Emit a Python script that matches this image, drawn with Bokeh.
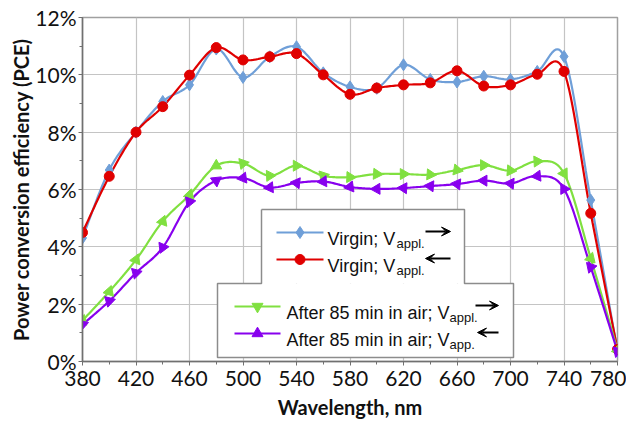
import math
from bokeh.plotting import figure
from bokeh.models import (SingleIntervalTicker, FixedTicker, PrintfTickFormatter, Label,
                          Arrow, VeeHead, Range1d, Title)
from bokeh.embed import file_html
from bokeh.resources import INLINE

# ---------------- data ----------------
wavelength = [380, 400, 420, 440, 460, 480, 500, 520, 540, 560, 580,
              600, 620, 640, 660, 680, 700, 720, 740, 760, 780]
virgin_fwd = [4.31, 6.68, 8.00, 9.07, 9.65, 10.90, 9.91, 10.63, 10.98, 10.07, 9.58,
              9.53, 10.35, 9.84, 9.75, 9.95, 9.84, 10.12, 10.64, 5.63, 0.35]
virgin_rev = [4.50, 6.46, 8.00, 8.89, 9.99, 10.95, 10.52, 10.63, 10.74, 10.00, 9.32,
              9.54, 9.65, 9.72, 10.14, 9.61, 9.65, 10.02, 10.12, 5.17, 0.42]
air_fwd = [1.43, 2.44, 3.55, 4.89, 5.81, 6.83, 6.91, 6.48, 6.83, 6.48, 6.43,
           6.54, 6.54, 6.52, 6.68, 6.85, 6.66, 6.98, 6.56, 3.60, 0.40]
air_rev = [1.29, 2.11, 3.09, 3.98, 5.57, 6.31, 6.40, 6.07, 6.23, 6.28, 6.09,
           6.02, 6.05, 6.12, 6.19, 6.31, 6.21, 6.47, 6.02, 3.29, 0.35]

x_major_ticks = [380, 420, 460, 500, 540, 580, 620, 660, 700, 740, 780]
x_minor_ticks = [400, 440, 480, 520, 560, 600, 640, 680, 720, 760]
y_ticks_interval = 2

BLUE = "#6f9fd8"
RED = "#e00000"
GREEN = "#80e040"
PURPLE = "#8800ee"

# ---------------- layout ----------------
W, H = 626, 425
ML, MR, MT = 82, 9, 17
FRAME_B = 361
MB = H - FRAME_B
FRAME_W = W - ML - MR
FRAME_H = FRAME_B - MT
X0, X1, Y0, Y1 = 380, 780, 0, 12
SX = FRAME_W / (X1 - X0)   # px per nm
SY = FRAME_H / (Y1 - Y0)   # px per %


def px2x(px):
    return X0 + (px - ML) / SX


def px2y(py):
    return (FRAME_B - py) / SY


def catmull(xs, ys, n=16):
    ox, oy = [], []
    m = len(xs)
    for i in range(m - 1):
        p0 = max(i - 1, 0)
        p3 = min(i + 2, m - 1)
        mx0 = (xs[i + 1] - xs[p0]) / 2
        my0 = (ys[i + 1] - ys[p0]) / 2
        mx1 = (xs[p3] - xs[i]) / 2
        my1 = (ys[p3] - ys[i]) / 2
        for k in range(n):
            t = k / n
            h00 = 2 * t**3 - 3 * t**2 + 1
            h10 = t**3 - 2 * t**2 + t
            h01 = -2 * t**3 + 3 * t**2
            h11 = t**3 - t**2
            ox.append(h00 * xs[i] + h10 * mx0 + h01 * xs[i + 1] + h11 * mx1)
            oy.append(h00 * ys[i] + h10 * my0 + h01 * ys[i + 1] + h11 * my1)
    ox.append(xs[-1])
    oy.append(ys[-1])
    return ox, oy


def marker_angles(xs, ys):
    out = []
    m = len(xs)
    for i in range(m):
        a = max(i - 1, 0)
        b = min(i + 1, m - 1)
        dx = (xs[b] - xs[a]) * SX
        dy = (ys[b] - ys[a]) * SY
        th = math.atan2(dy, dx)
        out.append(math.pi / 2 - th)
    return out


p = figure(width=W, height=H, output_backend="svg", toolbar_location=None,
           x_range=Range1d(X0, X1), y_range=Range1d(Y0, Y1),
           min_border_left=ML, min_border_right=MR, min_border_top=MT,
           min_border_bottom=MB)
p.background_fill_color = "white"
p.border_fill_color = "white"
p.outline_line_color = "#a0a0a0"
p.outline_line_width = 1.5

p.xaxis.ticker = FixedTicker(ticks=x_major_ticks, minor_ticks=x_minor_ticks)
p.yaxis.ticker = SingleIntervalTicker(interval=y_ticks_interval, num_minor_ticks=2)
p.yaxis.formatter = PrintfTickFormatter(format="%d%%")
for ax in (p.xaxis[0], p.yaxis[0]):
    ax.axis_line_color = "#707070"
    ax.axis_line_width = 1.5
    ax.major_tick_line_color = "#707070"
    ax.minor_tick_line_color = "#707070"
    ax.major_tick_in = 0
    ax.major_tick_out = 4
    ax.minor_tick_in = 0
    ax.minor_tick_out = 3
    ax.major_label_text_font = "Lato"
    ax.major_label_text_font_size = "21px"
    ax.major_label_text_color = "#111111"
p.xaxis.major_label_standoff = 5
p.yaxis.major_label_standoff = 2

p.xgrid.ticker = FixedTicker(ticks=x_major_ticks)
p.ygrid.ticker = SingleIntervalTicker(interval=y_ticks_interval)
p.grid.grid_line_color = "#c4c4c4"
p.grid.grid_line_width = 1.2

# axis titles
p.add_layout(Title(text="Wavelength, nm", align="center", offset=20, standoff=9,
                   text_font="Lato", text_font_style="bold", text_font_size="20px",
                   text_color="#111111"), "below")
p.add_layout(Title(text="Power conversion efficiency (PCE)", align="center", offset=-13,
                   standoff=0, text_font="Lato", text_font_style="bold",
                   text_font_size="20px", text_color="#111111"), "left")

# curves
series = [
    (virgin_fwd, BLUE, "diamond", 12, False),
    (virgin_rev, RED, "circle", 10, False),
    (air_fwd, GREEN, "inverted_triangle", 11, True),
    (air_rev, PURPLE, "triangle", 11, True),
]
for ys, col, mk, sz, rot in series:
    cx, cy = catmull(wavelength, ys)
    p.line(cx, cy, line_color=col, line_width=2.2)
for ys, col, mk, sz, rot in series:
    ang = marker_angles(wavelength, ys) if rot else 0
    p.scatter(wavelength, ys, marker=mk, size=sz, fill_color=col, line_color=col,
              angle=ang)

# legend boxes (union outline)
b1 = (261, 464, 209, 283)
b2 = (217, 513, 283, 357)
for (l, r, t, b) in (b1, b2):
    p.quad(left=px2x(l), right=px2x(r), top=px2y(t), bottom=px2y(b),
           fill_color="white", line_color=None)
outline = [(261, 209), (464, 209), (464, 283), (513, 283), (513, 357),
           (217, 357), (217, 283), (261, 283), (261, 209)]
p.line([px2x(a) for a, _ in outline], [px2y(b) for _, b in outline],
       line_color="#8c8c8c", line_width=1.5)

legend_rows = [
    # y, line x0, x1, color, marker, text, text_x, sub, sub_x, arrow x0, x1, direction
    (232, 276, 323, BLUE, "diamond", "Virgin; V", 327, "appl.", 396, 425, 450, 1),
    (259, 276, 323, RED, "circle", "Virgin; V", 327, "appl.", 396, 425, 450, -1),
    (306, 234, 280, GREEN, "inverted_triangle", "After 85 min in air; V", 286, "appl.", 449, 475, 498, 1),
    (333, 234, 280, PURPLE, "triangle", "After 85 min in air; V", 286, "app.", 449, 477, 498, -1),
]
msize = {"diamond": 12, "circle": 10, "inverted_triangle": 11, "triangle": 11}
for (yy, lx0, lx1, col, mk, txt, tx, sub, sx, ax0, ax1, d) in legend_rows:
    p.line([px2x(lx0), px2x(lx1)], [px2y(yy), px2y(yy)], line_color=col, line_width=2.2)
    p.scatter([px2x((lx0 + lx1) / 2)], [px2y(yy)], marker=mk, size=msize[mk],
              fill_color=col, line_color=col)
    p.add_layout(Label(x=px2x(tx), y=px2y(yy + 6), text=txt, text_font="Liberation Sans",
                       text_font_size="18px", text_baseline="alphabetic",
                       text_color="#111111"))
    p.add_layout(Label(x=px2x(sx), y=px2y(yy + 11), text=sub, text_font="Liberation Sans",
                       text_font_size="13px", text_baseline="alphabetic",
                       text_color="#111111"))
    xs_, xe_ = (ax0, ax1) if d > 0 else (ax1, ax0)
    p.add_layout(Arrow(end=VeeHead(size=9, fill_color="black", line_color="black"),
                       x_start=px2x(xs_), y_start=px2y(yy - 1), x_end=px2x(xe_),
                       y_end=px2y(yy - 1), line_color="black", line_width=2))

open("out.html", "w").write(file_html(p, INLINE))
